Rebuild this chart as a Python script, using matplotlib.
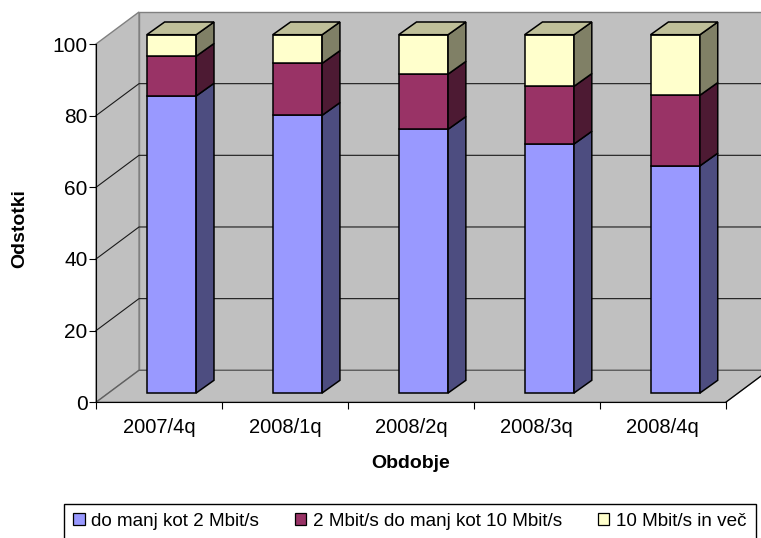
import matplotlib
matplotlib.use('Agg')
import matplotlib.pyplot as plt
from matplotlib.patches import Polygon, Patch

plt.rcParams['font.family'] = ['Liberation Sans', 'DejaVu Sans']

periods = ['2007/4q', '2008/1q', '2008/2q', '2008/3q', '2008/4q']
low = [82.9, 77.5, 73.6, 69.5, 63.4]
mid = [11.1, 14.5, 15.4, 16.1, 19.7]
high = [6.0, 8.0, 11.0, 14.4, 16.9]
series_names = ['do manj kot 2 Mbit/s', '2 Mbit/s do manj kot 10 Mbit/s', '10 Mbit/s in več']
y_ticks = [0, 20, 40, 60, 80, 100]

front = ['#9999FF', '#993366', '#FFFFCC']
side = ['#4D4D80', '#4D1A33', '#808066']
top = '#BFBF99'
wall = '#C0C0C0'

W, H = 761, 538
fig = plt.figure(figsize=(W / 100, H / 100), dpi=100)
ax = fig.add_axes([96 / W, (H - 402.3) / H, 629.7 / W, 358.3 / H])
ax.set_xlim(0, len(periods))
ax.set_ylim(0, 100)
ax.patch.set_visible(False)

# depth of the 3d box, in data units
depth_x = 43 / 125.94
depth_y = 32 / 3.583
n = len(periods)


def poly(pts, fc, ec, lw, z):
    p = Polygon(pts, closed=True, facecolor=fc, edgecolor=ec, linewidth=lw, zorder=z, joinstyle='miter')
    ax.add_patch(p)
    p.set_clip_on(False)


# walls and floor
poly([(depth_x, depth_y), (n + depth_x, depth_y), (n + depth_x, 100 + depth_y), (depth_x, 100 + depth_y)],
     wall, '#808080', 1.0, 1)
poly([(0, 0), (depth_x, depth_y), (depth_x, 100 + depth_y), (0, 100)], wall, '#808080', 1.0, 1)
poly([(0, 0), (n, 0), (n + depth_x, depth_y), (depth_x, depth_y)], wall, '#606060', 1.0, 1)
ax.plot([n, n + depth_x], [0, depth_y], color='black', lw=0.8, clip_on=False, zorder=1.5)

# gridlines run along the side wall and the back wall
for t in y_ticks[1:-1]:
    ax.plot([0, depth_x, n + depth_x], [t, t + depth_y, t + depth_y], color='#1a1a1a', lw=0.8,
            clip_on=False, zorder=1.5)

# stacked 3d columns, standing in the middle of the depth
bar_w = 0.392
off_x = 0.0995
off_y = 9.3 / 3.583
bar_dx = 17.8 / 125.94
bar_dy = 12.7 / 3.583
for i in range(n):
    x0 = i + 0.5 + off_x - bar_w / 2
    x1 = x0 + bar_w
    base = 0
    for vals, fc, sc in zip([low, mid, high], front, side):
        y0 = base + off_y
        y1 = base + vals[i] + off_y
        poly([(x0, y0), (x1, y0), (x1, y1), (x0, y1)], fc, 'black', 1.1, 3)
        poly([(x1, y0), (x1 + bar_dx, y0 + bar_dy), (x1 + bar_dx, y1 + bar_dy), (x1, y1)], sc, 'black', 1.1, 3)
        base += vals[i]
    y1 = base + off_y
    poly([(x0, y1), (x1, y1), (x1 + bar_dx, y1 + bar_dy), (x0 + bar_dx, y1 + bar_dy)], top, 'black', 1.1, 3)

for s in ['top', 'right']:
    ax.spines[s].set_visible(False)
for s in ['left', 'bottom']:
    ax.spines[s].set_linewidth(0.8)

ax.set_yticks(y_ticks)
ax.tick_params(axis='y', length=5, width=0.8, labelsize=15, pad=1)
ax.set_xticks(range(n + 1))
ax.set_xticklabels([])
ax.set_xticks([i + 0.5 for i in range(n)], minor=True)
ax.set_xticklabels(periods, minor=True, fontsize=14.5)
ax.tick_params(axis='x', which='major', length=5, width=0.8)
ax.tick_params(axis='x', which='minor', length=0, pad=11)

fig.text(411 / W, 1 - 463 / H, 'Obdobje', ha='center', va='center', fontsize=14, fontweight='bold')
fig.text(20 / W, 1 - 229 / H, 'Odstotki', ha='center', va='center', rotation=90, fontsize=14, fontweight='bold')

handles = [Patch(facecolor=c, edgecolor='black', linewidth=0.9, label=l) for c, l in zip(front, series_names)]
fig.legend(handles=handles, loc='upper left', ncol=3, mode='expand',
           bbox_to_anchor=(64 / W, 1 - 543.5 / H, 691.5 / W, 40 / H), bbox_transform=fig.transFigure,
           borderaxespad=0, fontsize=13.6, handlelength=0.6, handleheight=0.6, handletextpad=0.35,
           borderpad=0.5, fancybox=False, framealpha=1, edgecolor='black', columnspacing=1.2)

fig.savefig('out.png', dpi=100)
